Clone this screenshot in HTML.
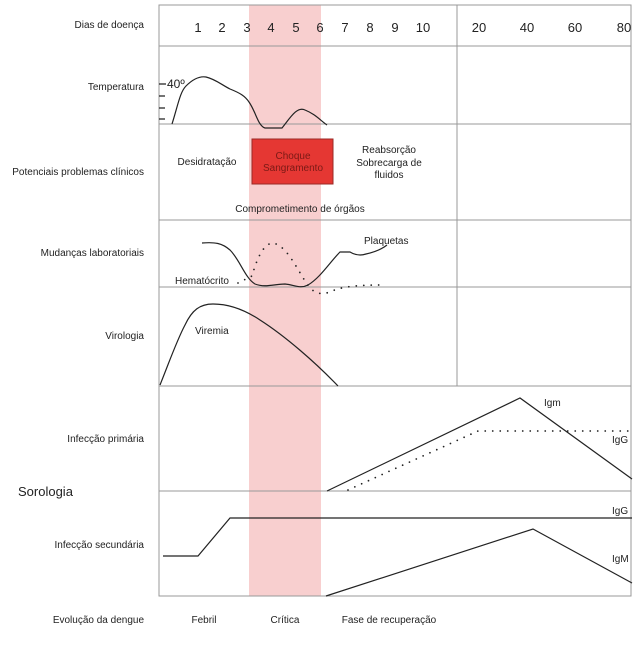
<!DOCTYPE html>
<html><head><style>body{margin:0;background:#fff}svg{display:block}text{font-family:"Liberation Sans",sans-serif;fill:#222}</style></head><body>
<svg width="640" height="646" viewBox="0 0 640 646" xmlns="http://www.w3.org/2000/svg">
<rect x="249" y="5" width="72" height="591" fill="#f8cfcf"/>
<g stroke="#999" stroke-width="1" fill="none">
<rect x="159" y="5" width="472" height="591"/>
<line x1="159" y1="46" x2="631" y2="46"/><line x1="159" y1="124" x2="631" y2="124"/>
<line x1="159" y1="220" x2="631" y2="220"/><line x1="159" y1="287" x2="631" y2="287"/>
<line x1="159" y1="386" x2="631" y2="386"/><line x1="159" y1="491" x2="631" y2="491"/>
<line x1="457" y1="5" x2="457" y2="386"/>
</g>
<g font-size="13" text-anchor="middle">
<text x="198" y="32">1</text><text x="222" y="32">2</text><text x="247" y="32">3</text><text x="271" y="32">4</text><text x="296" y="32">5</text><text x="320" y="32">6</text><text x="345" y="32">7</text><text x="370" y="32">8</text><text x="395" y="32">9</text><text x="423" y="32">10</text><text x="479" y="32">20</text><text x="527" y="32">40</text><text x="575" y="32">60</text><text x="624" y="32">80</text>
</g>
<g font-size="10" text-anchor="end">
<text x="144" y="28">Dias de doença</text><text x="144" y="90">Temperatura</text><text x="144" y="175">Potenciais problemas clínicos</text><text x="144" y="256">Mudanças laboratoriais</text><text x="144" y="339">Virologia</text><text x="144" y="442">Infecção primária</text><text x="144" y="548">Infecção secundária</text><text x="144" y="623">Evolução da dengue</text>
</g>
<text x="18" y="496" font-size="13">Sorologia</text>
<g stroke="#222" stroke-width="1.2" fill="none">
<path d="M159 84h7M159 96h6M159 108h6M159 119h6"/>
<path d="M172 124 C178 105,180 92,186 86 C193 79,200 76,206 77 C215 79,222 85,230 89 C240 93,245 96,249 102 C256 112,258 126,265 128 L282 128 C290 118,297 106,305 110 C315 114,320 120,327 125"/>
<path d="M202 243 C215 242,222 243,230 250 C240 260,245 278,255 284 C265 288,275 284,285 284 C295 285,300 289,308 285 C320 278,330 262,340 252 L350 252 C355 255,360 256,366 254 C375 252,382 249,387 245"/>
<path d="M160 385 C170 360,177 340,185 325 C192 310,200 304,213 304 C230 304,245 310,260 320 C285 336,315 362,338 386"/>
<path d="M327 491 L520 398 L632 479"/>
<path d="M163 556 L198 556 L230 518 L632 518"/>
<path d="M326 596 L533 529 L632 583"/>
</g>
<g stroke="#222" stroke-width="1.8" stroke-linecap="round" stroke-dasharray="0 7.5" fill="none">
<path d="M238 283 L252 276 C256 262,262 245,272 243 C285 244,295 265,305 281 C312 292,318 296,330 292 C340 287,355 285,382 285"/>
<path d="M348 490 L478 431 L632 431"/>
</g>
<rect x="252" y="139" width="81" height="45" fill="#e53733" stroke="#9a2a26" stroke-width="1"/>
<g font-size="10">
<text x="167" y="88" font-size="12">40º</text>
<text x="207" y="165" text-anchor="middle">Desidratação</text>
<text x="293" y="159" text-anchor="middle" fill="#7a1a16" style="fill:#7a1a16">Choque</text>
<text x="293" y="171" text-anchor="middle" style="fill:#7a1a16">Sangramento</text>
<text x="389" y="153" text-anchor="middle">Reabsorção</text>
<text x="389" y="166" text-anchor="middle">Sobrecarga de</text>
<text x="389" y="178" text-anchor="middle">fluidos</text>
<text x="300" y="212" text-anchor="middle">Comprometimento de órgãos</text>
<text x="364" y="244">Plaquetas</text>
<text x="175" y="284">Hematócrito</text>
<text x="195" y="334">Viremia</text>
<text x="544" y="406">Igm</text>
<text x="612" y="443">IgG</text>
<text x="612" y="514">IgG</text>
<text x="612" y="562">IgM</text>
<text x="204" y="623" text-anchor="middle">Febril</text>
<text x="285" y="623" text-anchor="middle">Crítica</text>
<text x="389" y="623" text-anchor="middle">Fase de recuperação</text>
</g>
</svg>
</body></html>
